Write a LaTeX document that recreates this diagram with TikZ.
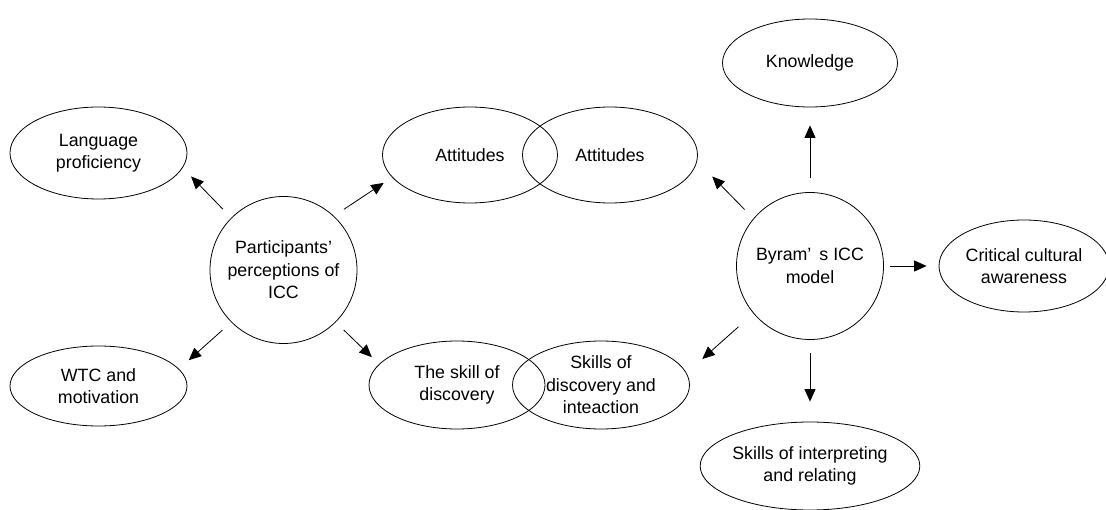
\documentclass[tikz,border=0pt]{standalone}
\usepackage{fontspec}
\setmainfont{Liberation Sans}
\usepackage{tikz}
\usetikzlibrary{arrows.meta,shapes.geometric}

\tikzset{
	bubble/.style={draw=black, ellipse, line width=0.8pt, inner sep=0pt, align=center, minimum width=176pt, minimum height=88pt},
	hub/.style={draw=black, circle, line width=0.8pt, inner sep=0pt, align=center, minimum size=147pt},
	arr/.style={draw=black, line width=0.8pt, -{Triangle[length=12.5pt,width=11pt]}},
}

\begin{document}
\begin{tikzpicture}[x=1pt, y=-1pt, font=\fontsize{17.8}{22.5}\selectfont]
			\useasboundingbox (0,0) rectangle (1106,510);
			% participants side
			\node[hub] (part) at (283.5,270) {Participants’\\perceptions of\\ICC};
			\node[bubble, minimum width=177pt, minimum height=92pt] (lang) at (98.5,153) {Language\\proficiency};
			\node[bubble, minimum width=177pt, minimum height=80pt] (wtc) at (98.5,386) {WTC and\\motivation};
			\node[bubble, minimum width=175pt, minimum height=96pt] (attL) at (470,155) {Attitudes};
			\node[bubble] (skillL) at (457,385) {The skill of\\discovery};
			% model side
			\node[hub] (byram) at (810,266) {Byram’\hspace{0.45em}s ICC\\model};
			\node[bubble, minimum width=175pt, minimum height=96pt] (attR) at (610,155) {Attitudes};
			\node[bubble, minimum width=177pt] (skillR) at (601,385) {Skills of\\discovery and\\inteaction};
			\node[bubble, minimum width=175pt] (know) at (810,63) {Knowledge};
			\node[bubble, minimum width=170pt, minimum height=92pt] (crit) at (1024,266) {Critical cultural\\awareness};
			\node[bubble, minimum width=174pt] (interp) at (810,466) {Skills of interpreting\\and relating};
			% arrows
			\draw[arr, shorten <=12pt, shorten >=12pt] (part.135) -- (lang.-10);
			\draw[arr, shorten <=12pt, shorten >=10pt] (part.47) -- (attL.196);
			\draw[arr, shorten <=12pt, shorten >=13pt] (part.225) -- (wtc.12);
			\draw[arr, shorten <=11pt, shorten >=10pt] (part.-45) -- (skillL.165);
			\draw[arr, shorten <=12.5pt, shorten >=21.5pt] (byram.140) -- (attR.-4);
			\draw[arr, shorten <=14pt, shorten >=18pt] (byram.north) -- (know.south);
			\draw[arr, shorten <=6.5pt, shorten >=12pt] (byram.east) -- (crit.west);
			\draw[arr, shorten <=20pt, shorten >=21pt] (byram.220) -- (skillR.8);
			\draw[arr, shorten <=13pt, shorten >=20pt] (byram.south) -- (interp.north);
		\end{tikzpicture}
\end{document}
